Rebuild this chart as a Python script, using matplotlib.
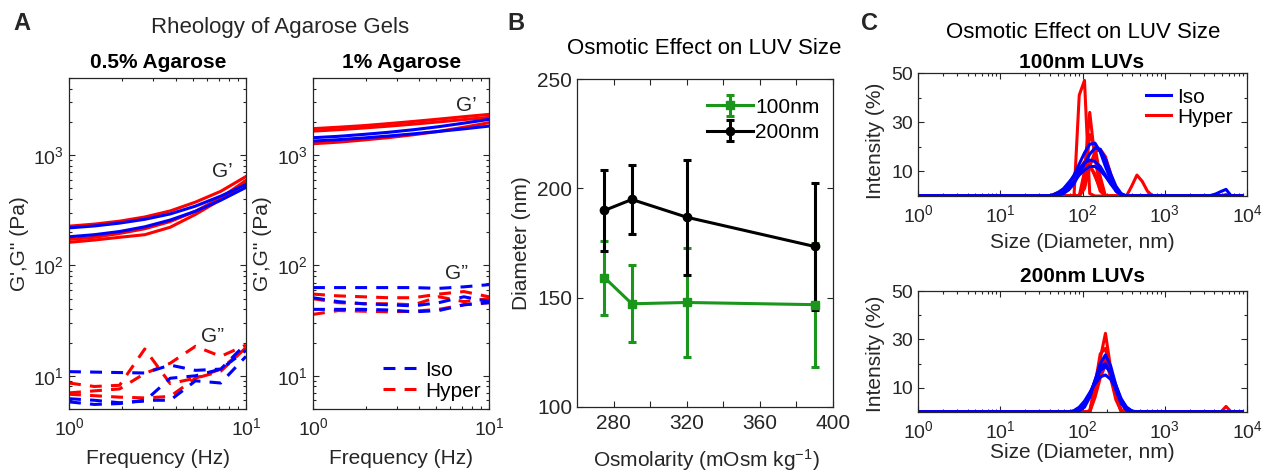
import matplotlib
matplotlib.use("Agg")
import matplotlib.pyplot as plt
from matplotlib.lines import Line2D
from matplotlib.ticker import NullFormatter, FixedLocator, LogLocator

plt.rcParams['font.family'] = ['Liberation Sans', 'DejaVu Sans']
plt.rcParams['mathtext.default'] = 'regular'

W, H = 1262, 471
GREY = '#262626'
BLUE = '#0000ff'
RED = '#ff0000'
GREEN = '#1a961a'

# ---------------- panel A : rheology ----------------
freq = [1.0, 1.39, 1.93, 2.68, 3.73, 5.18, 7.20, 10.0]

# 0.5 % agarose
gp05_iso = [[219, 228, 242, 262, 293, 345, 425, 542],
            [182, 190, 203, 224, 258, 310, 390, 510]]
gp05_hyper = [[227, 237, 252, 275, 312, 375, 470, 640],
              [162, 170, 180, 190, 222, 290, 395, 565],
              [172, 180, 195, 215, 250, 310, 410, 590]]
gpp05_iso = [[10.9, 10.8, 10.7, 10.6, 12.5, 11.2, 11.5, 19.5],
             [5.8, 5.5, 5.6, 6.0, 6.0, 9.0, 8.6, 15.0],
             [6.2, 6.0, 5.7, 5.9, 9.5, 10.0, 11.5, 17.0]]
gpp05_hyper = [[8.6, 8.0, 8.2, 17.5, 8.5, 9.5, 11.0, 18.0],
               [7.0, 7.3, 7.6, 10.5, 13.0, 18.5, 15.0, 19.0],
               [6.8, 6.6, 6.4, 6.3, 6.5, 9.5, 11.5, 18.0]]

# 1 % agarose
gp1_iso = [[1438, 1480, 1540, 1610, 1700, 1810, 1950, 2110],
           [1341, 1380, 1430, 1490, 1560, 1640, 1730, 1832]]
gp1_hyper = [[1737, 1790, 1850, 1930, 2020, 2120, 2230, 2340],
             [1650, 1700, 1760, 1830, 1910, 2000, 2100, 2200],
             [1268, 1310, 1370, 1440, 1530, 1640, 1790, 1968]]
gpp1_iso = [[63, 63, 63, 63, 63, 62, 64, 67],
            [51, 47, 45, 44, 43, 46, 52, 47],
            [40, 40, 40, 39.5, 38, 39, 44, 46]]
gpp1_hyper = [[55, 53, 52, 51, 51, 55, 58, 52],
              [50, 46, 45, 45, 44, 52, 47, 50],
              [36, 39, 38.5, 38, 38.5, 40, 44, 46]]

# ---------------- panel B : LUV diameter ----------------
osmolarity = [275, 290, 320, 390]
diam_100 = [159.2, 147.2, 147.8, 146.8]
err_100 = [16.9, 17.7, 25.1, 28.3]
diam_200 = [189.9, 194.9, 186.8, 173.4]
err_200 = [18.4, 15.6, 26.3, 29.0]

# ---------------- panel C : DLS size distributions ----------------
size_nm = [0.4, 37.84, 43.82, 50.75, 58.77, 68.06, 78.82, 91.28, 105.7, 122.4,
           141.8, 164.2, 190.1, 220.2, 255.0, 295.3, 342.0, 396.1, 458.7, 531.2,
           615.1, 712.4, 2669, 3091, 3580, 4145, 4801, 5560, 6439, 7456, 8635]

luv100_hyper = [
    [0, 0, 0, 0, 0, 0, 0, 41, 47, 1, 0, 0, 0, 0, 0, 0, 0, 0, 0, 0, 0, 0, 0, 0, 0, 0, 0, 0, 0, 0, 0],
    [0, 0, 0, 0, 0, 0, 0, 0, 10, 34, 15, 4, 0, 0, 0, 0, 0, 0, 0, 0, 0, 0, 0, 0, 0, 0, 0, 0, 0, 0, 0],
    [0, 0, 0, 0, 0, 0, 0, 0, 5, 25, 20, 8, 0, 0, 0, 0, 0, 0, 0, 0, 0, 0, 0, 0, 0, 0, 0, 0, 0, 0, 0],
    [0, 0, 0, 0, 0, 0, 0, 0, 3, 12, 18, 19, 16, 9, 2, 0, 0, 0, 0, 0, 0, 0, 0, 0, 0, 0, 0, 0, 0, 0, 0],
    [0, 0, 0, 0, 0, 0, 0, 0, 4, 12, 9, 2, 0, 0, 0, 0, 0, 4, 8.5, 6, 2, 0, 0, 0, 0, 0, 0, 0, 0, 0, 0],
    [0, 0, 0.5, 1.5, 2, 3, 6, 10, 14, 13, 8, 3, 0, 0, 0, 0, 0, 0, 0, 0, 0, 0, 0, 0, 0, 0, 0, 0.6, 0, 0, 0],
]
luv100_iso = [
    [0, 0, 0.3, 1, 2.5, 5, 8.5, 13, 17.5, 21, 21.5, 18, 12, 6.5, 2.5, 0.5, 0, 0, 0, 0, 0, 0, 0, 0, 0, 0, 0, 0, 0, 0, 0],
    [0, 0, 0, 0.3, 1, 2.5, 5, 9, 13, 17, 19.5, 19, 15, 9, 4, 1, 0, 0, 0, 0, 0, 0, 0, 0, 0, 0, 0, 0, 0, 0, 0],
    [0, 0, 0.5, 1.5, 3, 5.5, 8, 11, 13.5, 14.6, 14, 12, 8.5, 5, 2, 0.5, 0, 0, 0, 0, 0, 0, 0, 0, 0.2, 0.8, 1.8, 2.7, 0, 0, 0],
    [0, 0, 0, 0.5, 1.5, 3.5, 6, 8.5, 10.5, 12, 12, 10.5, 8, 5, 2.5, 0.8, 0, 0, 0, 0, 0, 0, 0, 0, 0, 0, 0, 0, 0, 0, 0],
]
luv200_hyper = [
    [0, 0, 0, 0, 0, 0, 0, 0, 0, 0, 9, 22, 32.5, 18, 6, 0, 0, 0, 0, 0, 0, 0, 0, 0, 0, 0, 0, 0, 0, 0, 0],
    [0, 0, 0, 0, 0, 0, 0, 0, 0, 0.5, 11, 24, 26.3, 16, 6, 1, 0, 0, 0, 0, 0, 0, 0, 0, 0, 0, 0, 0, 0, 0, 0],
    [0, 0, 0, 0, 0, 0, 0, 0, 0, 0, 6, 14, 19.4, 17, 10, 4, 0.5, 0, 0, 0, 0, 0, 0, 0, 0, 0, 0, 0, 0, 0, 0],
    [0, 0, 0, 0, 0, 0, 0, 0, 0, 0, 8, 18, 22, 14, 5, 0.5, 0, 0, 0, 0, 0, 0, 0, 0, 0, 0, 0, 2.3, 0, 0, 0],
]
luv200_iso = [
    [0, 0, 0, 0, 0, 0, 0, 0.5, 2, 6, 13, 20, 23.6, 19, 11, 4.5, 1, 0, 0, 0, 0, 0, 0, 0, 0, 0, 0, 0, 0, 0, 0],
    [0, 0, 0, 0, 0, 0, 0.3, 1.2, 3.5, 7.5, 12.5, 17, 18.8, 16.5, 11, 5.5, 2, 0.3, 0, 0, 0, 0, 0, 0, 0, 0, 0, 0, 0, 0, 0],
    [0, 0, 0, 0, 0, 0, 0.6, 2, 4.5, 8, 11.5, 14.5, 15.3, 13.5, 9.5, 5, 2, 0.5, 0, 0, 0, 0, 0, 0, 0, 0, 0, 0, 0, 0, 0],
    [0, 0, 0, 0, 0, 0, 0, 0.5, 2.5, 7, 13, 18.5, 20, 16, 9, 3.5, 0.8, 0, 0, 0, 0, 0, 0, 0, 0, 0, 0, 0, 0, 0, 0],
]


def rect(l, t, r, b):
    return [l / W, 1 - b / H, (r - l) / W, (b - t) / H]


def style(ax, fs, pad=3.5):
    ax.tick_params(which='both', direction='in', top=True, right=True,
                   colors=GREY, labelsize=fs, width=0.8)
    ax.tick_params(which='major', length=4)
    ax.tick_params(which='minor', length=2.5)
    ax.tick_params(axis='x', pad=pad)
    for s in ax.spines.values():
        s.set_color(GREY)
        s.set_linewidth(0.9)


def ftext(x, y, s, **kw):
    fig.text(x / W, 1 - y / H, s, ha='center', va='center', **kw)


fig = plt.figure(figsize=(W / 100, H / 100), dpi=100)

LW = 2.2
DASH = (3.9, 3.0)

# ---- A left / right
for r, gp_iso, gp_hyp, gpp_iso, gpp_hyp, lab_x, gtxt in [
        ((69, 78, 246, 409), gp05_iso, gp05_hyper, gpp05_iso, gpp05_hyper, -0.226,
         [(0.868, 0.717), (0.81, 0.218)]),
        ((313, 78, 489, 409), gp1_iso, gp1_hyper, gpp1_iso, gpp1_hyper, -0.233,
         [(0.871, 0.918), (0.815, 0.41)])]:
    ax = fig.add_axes(rect(*r))
    for y in gpp_hyp:
        ax.plot(freq, y, color=RED, lw=LW, dashes=DASH)
    for y in gpp_iso:
        ax.plot(freq, y, color=BLUE, lw=LW, dashes=DASH)
    for y in gp_hyp:
        ax.plot(freq, y, color=RED, lw=LW)
    for y in gp_iso:
        ax.plot(freq, y, color=BLUE, lw=LW)
    ax.set_xscale('log')
    ax.set_yscale('log')
    ax.set_xlim(1, 10)
    ax.set_ylim(5, 5000)
    ax.xaxis.set_minor_formatter(NullFormatter())
    ax.yaxis.set_minor_formatter(NullFormatter())
    style(ax, 14, pad=6)
    ax.set_xlabel('Frequency (Hz)', fontsize=15, color=GREY)
    ax.xaxis.set_label_coords(0.5, -0.121)
    ax.set_ylabel("G',G'' (Pa)", fontsize=15, color=GREY)
    ax.yaxis.set_label_coords(lab_x, 0.5)
    ax.text(*gtxt[0], 'G\u2019', transform=ax.transAxes, fontsize=15,
            color=GREY, ha='center', va='center')
    ax.text(*gtxt[1], 'G\u201d', transform=ax.transAxes, fontsize=15,
            color=GREY, ha='center', va='center')
    axA = ax

handles = [Line2D([], [], color=BLUE, lw=LW, dashes=DASH),
           Line2D([], [], color=RED, lw=LW, dashes=DASH)]
axA.legend(handles, ['Iso', 'Hyper'], loc='lower right', frameon=False,
           fontsize=15, handlelength=1.6, handletextpad=0.4,
           labelspacing=0.1, borderaxespad=0.0)

# ---- B
axB = fig.add_axes(rect(577, 79, 833, 407))
axB.errorbar(osmolarity, diam_100, yerr=err_100, color=GREEN, marker='s', ms=6,
             lw=LW, elinewidth=LW, capsize=2.8, capthick=LW, label='100nm')
axB.errorbar(osmolarity, diam_200, yerr=err_200, color='black', marker='o', ms=6,
             lw=LW, elinewidth=LW, capsize=2.8, capthick=LW, label='200nm')
axB.set_xlim(260, 400)
axB.set_ylim(100, 250)
axB.xaxis.set_major_locator(FixedLocator([280, 320, 360, 400]))
axB.xaxis.set_minor_locator(FixedLocator([300, 340, 380]))
axB.set_yticks([100, 150, 200, 250])
style(axB, 15, pad=5)
axB.tick_params(which='minor', length=4)
axB.set_ylabel('Diameter (nm)', fontsize=15, color=GREY)
axB.yaxis.set_label_coords(-0.18, 0.5)
axB.set_xlabel('Osmolarity (mOsm kg$^{-1}$)', fontsize=15, color=GREY)
axB.xaxis.set_label_coords(0.504, -0.122)
axB.legend(loc='upper right', frameon=False, fontsize=15, handlelength=2.2,
           handletextpad=0.1, labelspacing=0.3, borderaxespad=0.5,
           bbox_to_anchor=(1.02, 1.0))

# ---- C
for r, hyp, iso, ylab_y, xlab_y, leg in [
        ((918, 73, 1247, 196), luv100_hyper, luv100_iso, 0.447, -0.30, True),
        ((918, 291, 1247, 412), luv200_hyper, luv200_iso, 0.48, -0.256, False)]:
    ax = fig.add_axes(rect(*r))
    for y in hyp:
        ax.plot(size_nm, y, color=RED, lw=LW)
    for y in iso:
        ax.plot(size_nm, y, color=BLUE, lw=LW)
    ax.set_xscale('log')
    ax.set_xlim(1, 1e4)
    ax.set_ylim(0, 50)
    ax.xaxis.set_major_locator(LogLocator(base=10, numticks=10))
    ax.xaxis.set_minor_locator(LogLocator(base=10, subs=range(2, 10), numticks=20))
    ax.xaxis.set_minor_formatter(NullFormatter())
    ax.yaxis.set_major_locator(FixedLocator([10, 30, 50]))
    ax.yaxis.set_minor_locator(FixedLocator([20, 40]))
    style(ax, 14, pad=6)
    ax.set_ylabel('Intensity (%)', fontsize=15, color=GREY)
    ax.yaxis.set_label_coords(-0.1, ylab_y)
    ax.set_xlabel('Size (Diameter, nm)', fontsize=15, color=GREY)
    ax.xaxis.set_label_coords(0.5, xlab_y)
    if leg:
        handles = [Line2D([], [], color=BLUE, lw=LW),
                   Line2D([], [], color=RED, lw=LW)]
        ax.legend(handles, ['Iso', 'Hyper'], loc='upper right', frameon=False,
                  fontsize=15, handlelength=1.2, handletextpad=0.3,
                  labelspacing=0.05, borderaxespad=0.3)

# ---- titles and panel letters
ftext(22, 23, 'A', fontsize=17, fontweight='bold', color=GREY)
ftext(516, 23, 'B', fontsize=17, fontweight='bold', color=GREY)
ftext(870, 23, 'C', fontsize=17, fontweight='bold', color=GREY)
ftext(280, 27, 'Rheology of Agarose Gels', fontsize=16, color=GREY)
ftext(704, 49, 'Osmotic Effect on LUV Size', fontsize=16, color='black')
ftext(1083, 33, 'Osmotic Effect on LUV Size', fontsize=16, color='black')
ftext(158, 63, '0.5% Agarose', fontsize=15, fontweight='bold', color='black')
ftext(402, 63, '1% Agarose', fontsize=15, fontweight='bold', color='black')
ftext(1082, 62, '100nm LUVs', fontsize=15, fontweight='bold', color='black')
ftext(1082, 277, '200nm LUVs', fontsize=15, fontweight='bold', color='black')

fig.savefig('out.png', dpi=100)
